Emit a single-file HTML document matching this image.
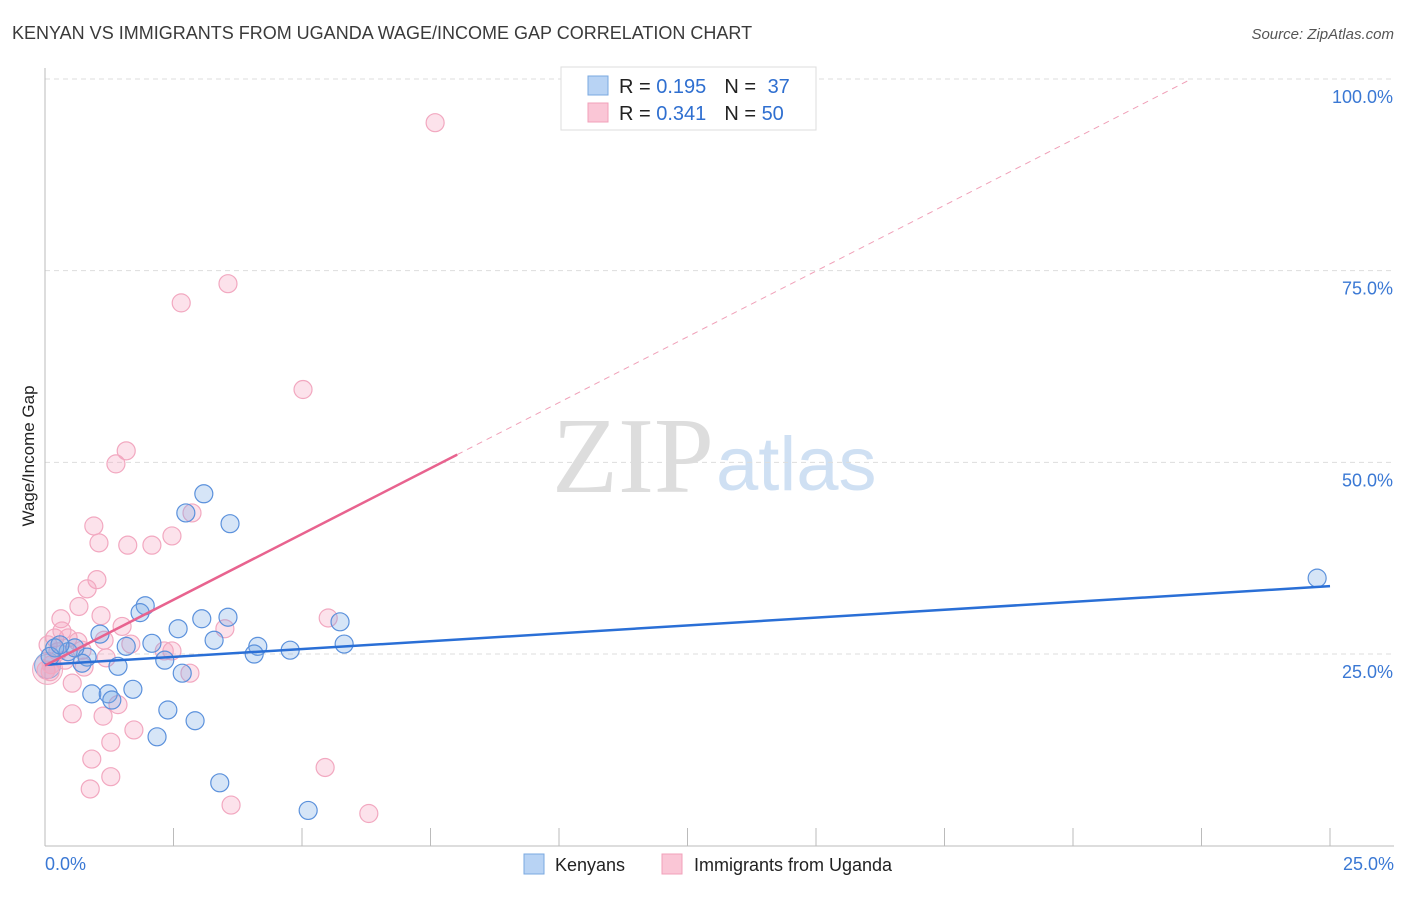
<!DOCTYPE html>
<html><head><meta charset="utf-8"><style>
body{margin:0;background:#fff;font-family:"Liberation Sans",sans-serif;}
svg text{font-family:"Liberation Sans",sans-serif;}
</style></head><body>
<svg id="chart" width="1406" height="892" xmlns="http://www.w3.org/2000/svg">
<text x="12" y="39" font-size="18" fill="#3a3a3a">KENYAN VS IMMIGRANTS FROM UGANDA WAGE/INCOME GAP CORRELATION CHART</text>
<text x="1394" y="39" font-size="15" fill="#555" font-style="italic" text-anchor="end">Source: ZipAtlas.com</text>
<text x="714" y="492" font-size="108" fill="#ddd" text-anchor="end" style="font-family:'Liberation Serif',serif">ZIP</text>
<text x="716" y="490" font-size="76" fill="#cfe0f3">atlas</text>
<g id="grid"></g>
<g id="marks"></g>
<g>
<rect x="561" y="67" width="255" height="63" fill="#fff" stroke="#ddd"/>
<rect x="588" y="76" width="20" height="19" fill="#b8d3f4" stroke="#7aa8e0"/>
<rect x="588" y="103" width="20" height="19" fill="#fac6d6" stroke="#f1a0ba"/>
<text x="619" y="93" font-size="20" fill="#222">R = <tspan fill="#2f6fd0">0.195</tspan><tspan dx="18">N = </tspan><tspan fill="#2f6fd0" dx="6">37</tspan></text>
<text x="619" y="120" font-size="20" fill="#222">R = <tspan fill="#2f6fd0">0.341</tspan><tspan dx="18">N = </tspan><tspan fill="#2f6fd0">50</tspan></text>
</g>
<text transform="translate(34,456) rotate(-90)" font-size="17" fill="#222" text-anchor="middle">Wage/Income Gap</text>
<g>
<rect x="524" y="854" width="20" height="20" fill="#b8d3f4" stroke="#7aa8e0"/>
<text x="555" y="871" font-size="18" fill="#222">Kenyans</text>
<rect x="662" y="854" width="20" height="20" fill="#fac6d6" stroke="#f1a0ba"/>
<text x="694" y="871" font-size="18" fill="#222">Immigrants from Uganda</text>
</g>
</svg>
<script>
const xTicks=[0,25];
const yTicks=[25,50,75,100];
const blueX=[3.09,2.74,3.60,1.95,1.85,1.07,2.59,3.05,3.56,5.74,2.08,1.58,3.29,4.14,4.07,4.77,5.82,2.33,2.67,1.42,0.82,0.72,0.45,0.19,0.10,1.71,0.91,1.23,1.30,2.39,2.92,2.18,3.40,5.12,24.75,0.58,0.29];
const blueY=[45.9,43.4,42.0,31.3,30.4,27.6,28.3,29.6,29.8,29.2,26.4,26.0,26.8,26.0,25.0,25.5,26.3,24.2,22.5,23.4,24.6,23.8,25.3,25.8,24.7,20.4,19.8,19.8,19.0,17.7,16.3,14.2,8.2,4.6,34.9,25.8,26.2];
const pinkX=[7.59,3.56,2.65,5.02,1.58,1.38,0.95,2.86,1.05,2.47,2.08,1.61,1.01,0.82,0.66,0.31,1.09,1.50,5.51,3.50,2.47,1.67,2.82,0.53,1.19,0.76,0.19,0.45,0.64,0.02,0.10,1.42,1.13,0.53,1.73,1.28,0.91,1.28,0.88,5.45,3.62,6.30,0.33,0.06,1.15,0.39,0.72,0.25,2.32,0.12];
const pinkY=[94.3,73.3,70.8,59.5,51.5,49.8,41.7,43.4,39.5,40.4,39.2,39.2,34.7,33.5,31.2,29.6,30.0,28.6,29.7,28.3,25.4,26.3,22.5,21.2,24.5,23.3,27.1,27.1,26.6,22.9,22.7,18.4,16.9,17.2,15.1,13.5,11.3,9.0,7.4,10.2,5.3,4.2,28.0,26.2,26.8,24.2,25.5,25.3,25.4,23.6];
const blueTrend=[23.6,0.41];
const pinkTrend=[23.5,3.43];
const pinkSolidEnd=8.02;
const X0=45,X1=1330,Y0=845.7,YS=7.667;
const sx=v=>X0+(v/25)*(X1-X0);
const sy=v=>Y0-v*YS;
const NS="http://www.w3.org/2000/svg";
function mk(t,a,p){const e=document.createElementNS(NS,t);for(const k in a)e.setAttribute(k,a[k]);p.appendChild(e);return e;}
const grid=document.getElementById('grid'),marks=document.getElementById('marks');
yTicks.forEach(t=>{
 const l=mk('line',{x1:45,x2:1394,y1:sy(t),y2:sy(t),stroke:'#ddd','stroke-dasharray':'5,4'},grid);
 
 
 const tx=mk('text',{x:1393,y:sy(t)+24,'font-size':18,fill:'#3a78d4','text-anchor':'end'},grid);
 tx.textContent=t.toFixed(1)+'%';
 
 
});
mk('line',{x1:45,x2:45,y1:68,y2:846,stroke:'#bbb'},grid);
mk('line',{x1:45,x2:1394,y1:846,y2:846,stroke:'#bbb'},grid);
for(let i=0;i<=10;i++){const x=sx(i*2.5);const t=mk('line',{x1:x,x2:x,y1:828,y2:846,stroke:'#bbb'},grid);
 
 }
xTicks.forEach((t,i)=>{const tx=mk('text',{x:i?1394:45,y:870,'font-size':18,fill:'#3a78d4','text-anchor':i?'end':'start'},grid);
 tx.textContent=t.toFixed(1)+'%';
 
 });
mk('circle',{cx:sx(0.05),cy:sy(23),r:15,fill:'rgba(240,150,180,0.25)',stroke:'#f2a8c0'},marks);
mk('circle',{cx:sx(0.05),cy:sy(23.5),r:13,fill:'rgba(110,160,225,0.25)',stroke:'#7aa8e0'},marks);
pinkX.forEach((x,i)=>{const c=mk('circle',{cx:sx(x),cy:sy(pinkY[i]),r:9,fill:'rgba(244,160,188,0.3)',stroke:'#f2a8c0','stroke-width':1.2},marks);
 
 });
blueX.forEach((x,i)=>{const c=mk('circle',{cx:sx(x),cy:sy(blueY[i]),r:9,fill:'rgba(120,170,230,0.3)',stroke:'#5b91dc','stroke-width':1.2},marks);
 
 });
const bl=mk('line',{x1:sx(0),y1:sy(blueTrend[0]),x2:sx(25),y2:sy(blueTrend[0]+blueTrend[1]*25),stroke:'#2a6fd6','stroke-width':2.5},marks);


const pe=pinkSolidEnd, xEnd=(100-pinkTrend[0])/pinkTrend[1];
const pl=mk('line',{x1:sx(0),y1:sy(pinkTrend[0]),x2:sx(pe),y2:sy(pinkTrend[0]+pinkTrend[1]*pe),stroke:'#e8638f','stroke-width':2.5},marks);


const pd=mk('line',{x1:sx(pe),y1:sy(pinkTrend[0]+pinkTrend[1]*pe),x2:sx(xEnd),y2:sy(100),stroke:'#f0a0b8','stroke-width':1,'stroke-dasharray':'6,5'},marks);


</script>
</body></html>
